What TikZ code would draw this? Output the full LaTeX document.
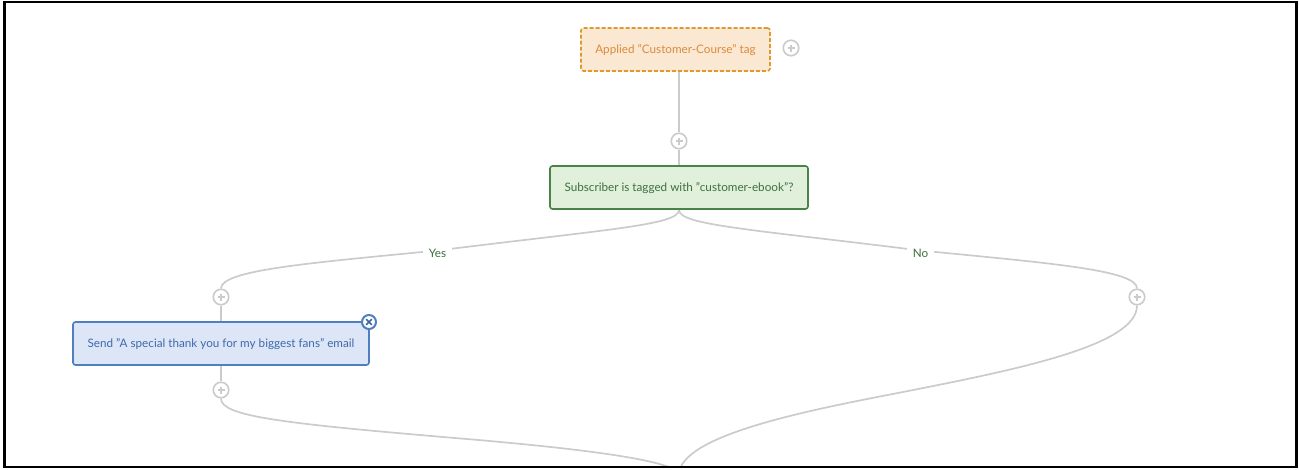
\documentclass[tikz,border=0pt]{standalone}
\usepackage{fontspec}
\setmainfont{Lato}
\usetikzlibrary{
  positioning,
  backgrounds
}
\definecolor{tagfill}{HTML}{FBE8D2}
\definecolor{tagline}{HTML}{E0992E}
\definecolor{tagtext}{HTML}{DD8A3C}
\definecolor{testfill}{HTML}{E0F0DB}
\definecolor{testline}{HTML}{4A8348}
\definecolor{testtext}{HTML}{3F7040}
\definecolor{mailfill}{HTML}{DCE6F6}
\definecolor{mailline}{HTML}{4F7FBE}
\definecolor{mailtext}{HTML}{3F69AC}
\definecolor{flowgray}{HTML}{CBCBCB}
\tikzstyle{flowbox}=[rounded corners=2.5pt,line width=1.6pt,inner sep=0pt,text height=9pt,text depth=1pt,font=\fontsize{11.7}{13}\selectfont]
\tikzstyle{flowline}=[flowgray,line width=1.7pt]
\tikzstyle{plusnode}=[circle,draw=flowgray,fill=white,line width=1.6pt,minimum size=15.5pt,inner sep=0pt,
  path picture={\draw[flowgray,line width=1.4pt]
    (path picture bounding box.center) ++(-3.5pt,0) -- ++(7pt,0)
    (path picture bounding box.center) ++(0,-3.5pt) -- ++(0,7pt);}]
\tikzstyle{closenode}=[circle,draw=mailline,fill=white,line width=2pt,minimum size=14pt,inner sep=0pt,
  path picture={\draw[mailline!80!black,line width=1.7pt]
    (path picture bounding box.center) ++(-2.8pt,-2.8pt) -- ++(5.6pt,5.6pt)
    (path picture bounding box.center) ++(-2.8pt,2.8pt) -- ++(5.6pt,-5.6pt);}]
\tikzstyle{branchlabel}=[fill=white,text=testtext,inner xsep=5.5pt,inner ysep=1pt,font=\fontsize{11.7}{13}\selectfont]

\begin{document}
\begin{tikzpicture}[x=1pt,y=-1pt]
    \useasboundingbox (0,0) rectangle (1299,469);

    % BOXES
    \node[flowbox,dash pattern=on 4pt off 2pt,draw=tagline,fill=tagfill,text=tagtext,minimum width=189pt,minimum height=43pt]
      (tagged) at (675.5,49.5) {Applied "Customer-Course" tag};
    \node[flowbox,draw=testline,fill=testfill,text=testtext,minimum width=258pt,minimum height=43pt]
      (ifebook) at (679,187.5) {Subscriber is tagged with "customer-ebook"?};
    \node[flowbox,draw=mailline,fill=mailfill,text=mailtext,minimum width=296pt,minimum height=43pt]
      (thanks) at (221,343.5) {Send "A special thank you for my biggest fans" email};

    % PLUS BUTTONS
    \node[plusnode] (plustag) at (791,48) {};
    \node[plusnode] (plustest) at (679,141) {};
    \node[plusnode] (plusyes) at (221,297) {};
    \node[plusnode] (plusno) at (1137,297) {};
    \node[plusnode] (plusmail) at (221,390) {};
    \node[closenode] (closemail) at (369,322) {};

    % BRANCH LABELS
    \node[branchlabel] (yes) at (437.5,253) {Yes};
    \node[branchlabel] (no) at (920.5,253) {No};
    \coordinate (merge) at (679,475);
    \coordinate (bendleft) at (443,437);
    \coordinate (bendright) at (903,392);

    % LINES
    \begin{scope}[on background layer]
      \draw[flowline] (plustest |- tagged.south) -- (plustest);
      \draw[flowline] (plustest) -- (ifebook);
      \draw[flowline] (plusyes) -- (thanks);
      \draw[flowline] (thanks) -- (plusmail);
      \draw[flowline] (ifebook.south) .. controls (679,225) and (610,229) .. ([yshift=2.5pt]yes.center)
        .. controls (310,263) and (221,270) .. (plusyes.north);
      \draw[flowline] (ifebook.south) .. controls (679,225) and (748,229) .. ([yshift=2.5pt]no.center)
        .. controls (1048,263) and (1137,270) .. (plusno.north);
      \clip (5,3) rectangle (1295,466);
      \draw[flowline] (plusmail.south) .. controls (221,416) and (280,423) .. (bendleft)
        .. controls (540,445) and (679,458) .. (merge);
      \draw[flowline] (plusno.south) .. controls (1137,345) and (1020,369) .. (bendright)
        .. controls (810,410) and (679,435) .. (merge);
    \end{scope}

    % FRAME
    \draw[black,line width=2.5pt] (4.25,2) rectangle (1296.25,467);
\end{tikzpicture}
\end{document}
